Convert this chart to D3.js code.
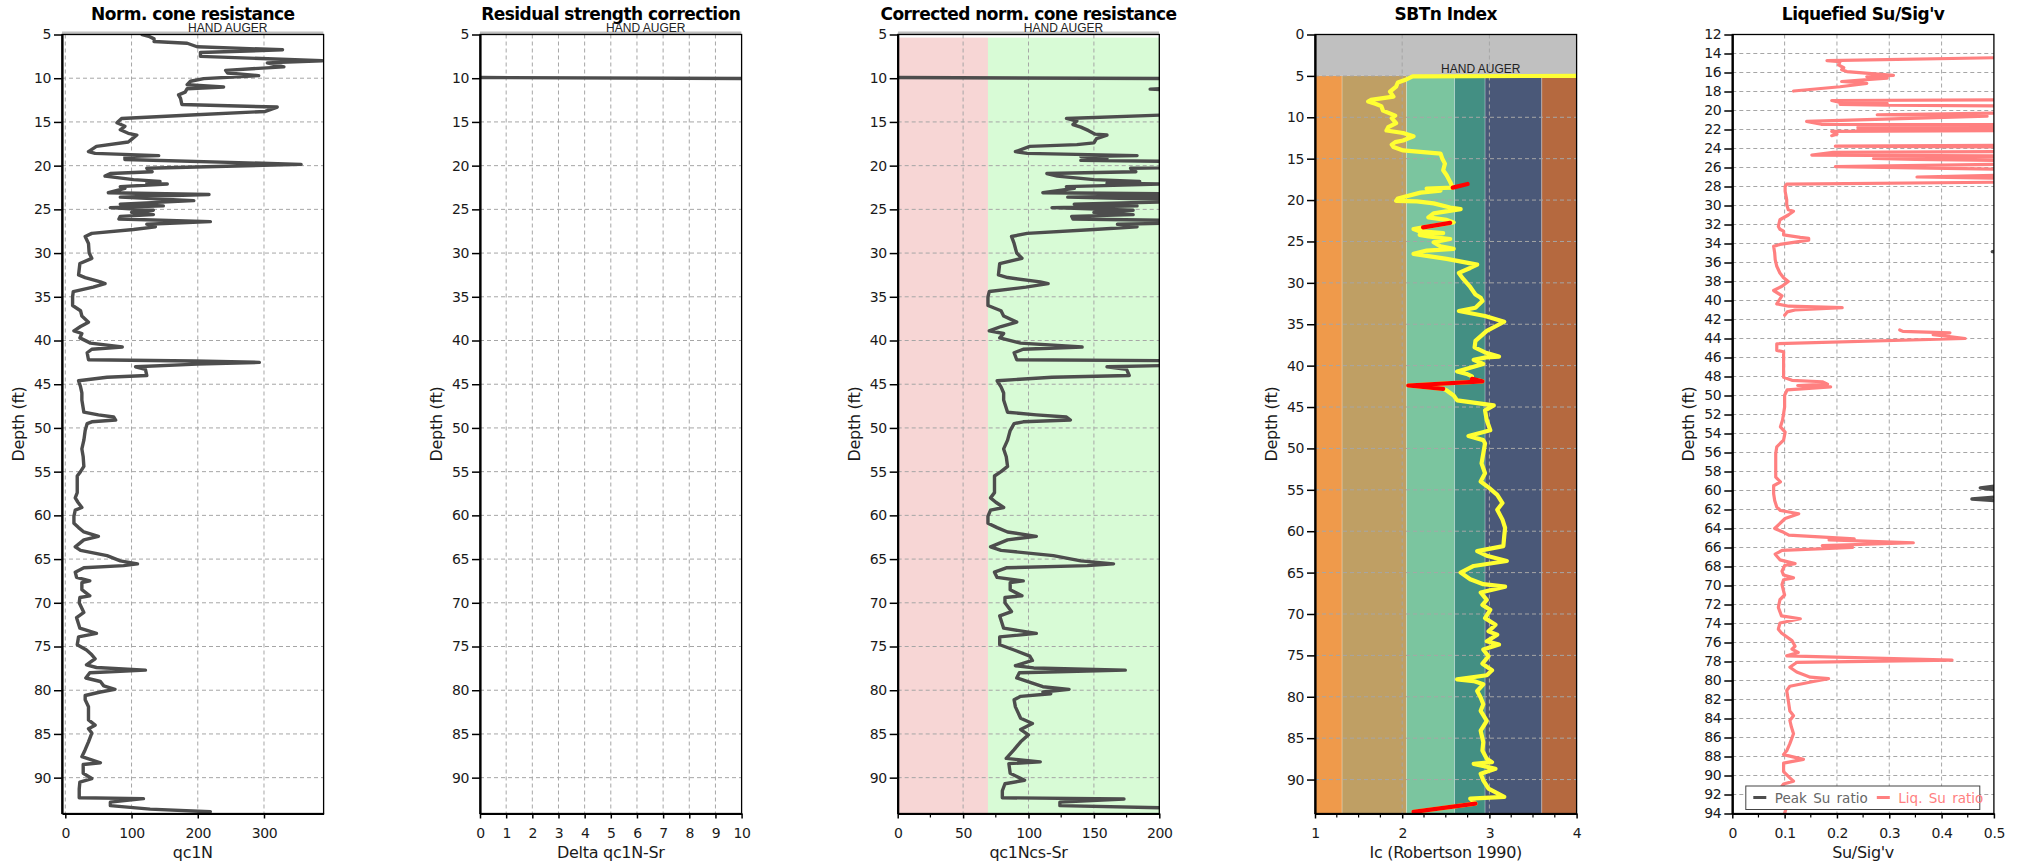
<!DOCTYPE html>
<html><head><meta charset="utf-8">
<script src="https://cdn.jsdelivr.net/npm/d3@7"></script>
<style>
html,body{margin:0;padding:0;background:#fff;}
svg{display:block;}
</style></head><body>
<svg id="chart" width="2026" height="865"></svg>
<script>
// ---------------- DATA ----------------
const titles = ["Norm. cone resistance", "Residual strength correction", "Corrected norm. cone resistance", "SBTn Index", "Liquefied Su/Sig'v"];
const xTitles = ["qc1N", "Delta qc1N-Sr", "qc1Ncs-Sr", "Ic (Robertson 1990)", "Su/Sig'v"];
const yTitle = "Depth (ft)";
const handAuger = [0, 5];
const handAugerLabel = "HAND AUGER";

const xTicks1 = [0, 100, 200, 300];
const xTicks2 = [0, 1, 2, 3, 4, 5, 6, 7, 8, 9, 10];
const xTicks3 = [0, 50, 100, 150, 200];
const xTicks4 = [1, 2, 3, 4];
const xTicks5 = [0, 0.1, 0.2, 0.3, 0.4, 0.5];
const xLabels5 = ["0", "0.1", "0.2", "0.3", "0.4", "0.5"];
const xMinor3 = [25, 75, 125, 175];
const xMinor4 = [1.25, 1.5, 1.75, 2.25, 2.5, 2.75, 3.25, 3.5, 3.75];
const xMinor5 = [0.05, 0.15, 0.25, 0.35, 0.45];
const yTicksDepth = [5, 10, 15, 20, 25, 30, 35, 40, 45, 50, 55, 60, 65, 70, 75, 80, 85, 90];
const yTicksSBT = [0, 5, 10, 15, 20, 25, 30, 35, 40, 45, 50, 55, 60, 65, 70, 75, 80, 85, 90];
const yTicksSu = [12, 14, 16, 18, 20, 22, 24, 26, 28, 30, 32, 34, 36, 38, 40, 42, 44, 46, 48, 50, 52, 54, 56, 58, 60, 62, 64, 66, 68, 70, 72, 74, 76, 78, 80, 82, 84, 86, 88, 90, 92, 94];

// qc1N : [depth ft, value]
const qc1N = [[5.0,116],[5.2,126],[5.5,134],[5.8,134],[6.0,184],[6.4,199],[6.75,328],[7.06,204],[7.5,204],[8.0,388],[8.25,305],[8.7,330],[9.1,242],[9.4,245],[9.7,292],[10.05,209],[10.35,189],[10.75,184],[11.0,239],[11.2,184],[11.6,181],[11.9,171],[12.3,174],[13.0,176],[13.3,320],[13.8,302],[14.2,190],[14.6,85],[15.1,78],[15.5,90],[15.9,83],[16.3,95],[16.5,108],[17.0,100],[17.3,95],[17.8,47],[18.4,35],[18.6,45],[18.85,141],[18.95,90],[19.3,90],[19.85,356],[20.3,123],[20.7,131],[20.9,68],[21.2,60],[21.6,103],[21.8,143],[22.0,123],[22.1,154],[22.4,83],[22.6,90],[23.1,65],[23.3,217],[23.6,83],[24.0,194],[24.4,83],[24.6,148],[24.8,68],[25.1,133],[25.35,100],[25.6,133],[25.8,83],[26.1,81],[26.4,219],[26.7,123],[27.0,136],[27.3,103],[27.75,40],[28.1,30],[28.9,35],[30.0,36],[30.6,40],[31.2,22],[32.5,20],[32.8,30],[33.3,53],[33.5,60],[33.9,42],[34.4,12],[35.0,11],[36.0,11],[36.6,23],[37.2,25],[37.9,35],[38.4,23],[38.9,13],[39.2,25],[39.7,22],[40.3,38],[40.75,86],[41.0,40],[41.4,33],[42.2,35],[42.35,194],[42.5,293],[42.7,199],[43.0,106],[43.3,121],[44.0,123],[44.2,63],[44.6,20],[45.3,23],[46.0,25],[46.8,25],[48.2,28],[48.5,50],[48.75,73],[49.1,76],[49.3,40],[49.5,33],[50.3,30],[51.4,28],[52.4,25],[53.3,27],[54.4,28],[55.0,23],[55.5,18],[57.4,18],[58.0,15],[58.5,19],[59.1,25],[59.4,15],[60.1,13],[60.9,13],[61.4,20],[61.9,28],[62.4,50],[62.8,28],[63.6,15],[64.0,23],[64.6,63],[65.2,83],[65.55,109],[65.75,88],[66.0,28],[66.5,15],[67.1,17],[67.5,37],[67.7,25],[68.5,25],[69.2,37],[69.4,22],[70.0,21],[71.1,28],[71.7,17],[72.9,22],[73.5,47],[73.9,20],[74.8,18],[75.4,32],[75.95,40],[76.4,45],[77.1,32],[77.4,47],[77.7,121],[78.0,37],[78.6,31],[79.0,53],[79.5,58],[79.9,75],[80.2,53],[80.6,30],[81.1,30],[81.9,35],[83.4,35],[84.0,45],[84.4,35],[84.9,40],[85.9,35],[86.8,30],[87.6,25],[88.3,53],[88.5,27],[89.5,27],[90.1,40],[90.5,22],[91.3,21],[92.3,21],[92.4,118],[92.8,68],[93.2,68],[93.6,128],[93.9,219]];

// Delta qc1N-Sr : [depth ft, value]
const deltaSr = [[9.92,0],[10.08,14],[12,40],[94,40]];

// qc1Ncs-Sr : [depth ft, value]
const qc1NcsSr = [[9.92,0],[10.08,280],[11.1,215],[11.25,193],[11.4,215],[14.15,215],[14.6,129],[14.9,137],[15.3,134],[15.6,140],[16.0,146],[16.4,151],[16.5,160],[16.9,152],[17.4,150],[17.6,137],[17.8,101],[18.4,90],[18.6,99],[18.85,183],[18.95,140],[19.2,160],[19.4,140],[19.85,410],[20.3,178],[20.7,182],[20.9,114],[21.2,122],[21.6,150],[21.8,185],[22.0,160],[22.1,205],[22.4,129],[22.6,135],[23.1,111],[23.3,270],[23.6,130],[24.0,245],[24.4,135],[24.6,183],[24.8,118],[25.1,180],[25.35,150],[25.6,180],[25.8,133],[26.1,134],[26.4,270],[26.7,168],[27.0,183],[27.3,150],[27.75,99],[28.1,87],[28.9,89],[30.0,91],[30.6,95],[31.2,78],[32.5,77],[32.8,84],[33.3,109],[33.5,115],[33.9,98],[34.4,70],[35.0,69],[36.0,69],[36.6,79],[37.2,81],[37.9,91],[38.4,79],[38.9,70],[39.2,81],[39.7,78],[40.3,94],[40.75,141],[41.0,96],[41.4,89],[42.2,91],[42.35,248],[42.5,345],[42.7,252],[43.0,160],[43.3,175],[44.0,177],[44.2,118],[44.6,76],[45.3,79],[46.0,81],[46.8,81],[48.2,84],[48.5,106],[48.75,129],[49.1,132],[49.3,96],[49.5,89],[50.3,86],[51.4,84],[52.4,81],[53.3,83],[54.4,84],[55.0,79],[55.5,74],[57.4,74],[58.0,71],[58.5,75],[59.1,81],[59.4,71],[60.1,69],[60.9,69],[61.4,76],[61.9,84],[62.4,106],[62.8,84],[63.6,71],[64.0,79],[64.6,119],[65.2,140],[65.55,165],[65.75,145],[66.0,83],[66.5,74],[67.1,76],[67.5,96],[67.7,86],[68.5,86],[69.2,95],[69.4,82],[70.0,82],[71.0,87],[71.5,78],[72.9,81],[73.5,106],[73.9,78],[74.8,78],[75.4,89],[76.1,101],[76.6,103],[77.2,90],[77.45,104],[77.7,174],[78.0,93],[78.6,91],[79.2,103],[79.6,111],[79.9,131],[80.2,111],[80.4,117],[80.7,94],[81.1,89],[81.9,90],[83.2,94],[83.8,103],[84.5,94],[85.1,100],[85.9,94],[86.8,89],[87.8,83],[88.2,109],[88.4,85],[89.5,86],[90.3,97],[90.7,82],[91.5,80],[92.3,80],[92.45,173],[92.8,124],[93.2,124],[93.6,250],[93.9,290]];
const zoneEdges3 = [0, 69, 200];
const zoneColors3 = ["#f7d6d5", "#d8fbd6"];
const zoneTop3 = 5.35;

// Ic : [depth ft, value]
const icSeries = [[4.98,4.6],[5.05,2.12],[5.2,2.09],[5.5,2.03],[5.8,1.95],[6.3,1.93],[6.9,1.86],[7.5,1.90],[7.9,1.64],[8.1,1.61],[8.4,1.70],[8.65,1.76],[9.2,1.78],[9.8,1.92],[10.1,1.88],[10.7,1.93],[11.2,1.84],[11.6,1.82],[11.9,2.01],[12.3,2.13],[12.8,2.01],[13.0,1.92],[13.3,1.88],[13.6,1.90],[14.0,2.01],[14.4,2.44],[15.0,2.46],[15.6,2.49],[16.4,2.47],[17.0,2.51],[17.8,2.55],[18.5,2.58],[18.6,2.28],[18.85,2.44],[19.1,2.21],[19.8,1.95],[20.1,1.93],[20.15,2.17],[20.4,2.36],[20.9,2.55],[21.1,2.67],[21.6,2.36],[22.1,2.30],[22.4,2.51],[22.7,2.59],[23.3,2.24],[23.5,2.13],[23.75,2.19],[24.0,2.47],[24.2,2.20],[24.4,2.30],[24.7,2.55],[25.1,2.36],[25.6,2.44],[25.9,2.59],[26.1,2.28],[26.5,2.13],[26.8,2.32],[27.1,2.51],[27.8,2.86],[28.2,2.78],[28.8,2.65],[29.4,2.69],[30.5,2.78],[31.4,2.84],[31.8,2.90],[32.2,2.92],[33.0,2.84],[33.4,2.65],[34.0,2.95],[34.7,3.17],[35.8,2.97],[37.0,2.84],[37.8,2.83],[38.4,2.95],[38.9,3.11],[39.0,2.96],[39.3,2.82],[39.8,2.93],[40.7,2.63],[41.0,2.74],[41.3,2.80],[41.6,2.80],[41.9,2.92],[42.4,2.07],[42.8,2.47],[43.0,2.51],[43.6,2.59],[44.2,2.63],[44.8,3.05],[45.4,2.95],[46.6,2.97],[47.8,3.01],[48.5,2.76],[49.0,2.93],[49.4,2.95],[50.6,2.93],[51.8,2.91],[53.0,2.95],[54.0,2.90],[54.8,3.00],[55.6,3.09],[56.6,3.15],[57.4,3.09],[58.6,3.15],[59.6,3.18],[60.6,3.17],[61.8,3.16],[62.4,2.86],[63.0,2.98],[63.6,3.20],[64.2,2.82],[65.0,2.67],[65.8,2.78],[66.4,2.93],[66.7,3.18],[67.4,2.90],[68.3,2.97],[68.9,2.92],[69.5,3.01],[70.5,2.95],[71.3,3.07],[72.1,2.99],[72.5,3.09],[73.3,2.97],[73.7,3.11],[74.3,2.93],[75.1,2.99],[76.0,2.92],[76.8,3.03],[77.4,2.97],[77.9,2.63],[78.1,2.82],[78.5,2.93],[79.3,2.86],[80.1,2.90],[80.9,2.93],[81.7,2.90],[82.9,2.97],[84.1,2.90],[85.5,2.93],[86.5,2.92],[87.5,2.97],[87.9,3.03],[88.1,2.82],[88.7,3.07],[89.3,2.90],[90.1,2.93],[91.1,2.99],[92.1,3.17],[92.3,2.78],[92.9,2.84],[93.9,2.13]];
// flagged Ic segments (red), null separates pieces
const icFlagged = [[18.5,2.58],[18.05,2.75],null,[22.75,2.55],[23.3,2.24],null,[41.6,2.80],[41.9,2.92],[42.4,2.07],[42.8,2.47],null,[92.9,2.84],[93.9,2.13]];
const sbtEdges = [1, 1.31, 2.05, 2.6, 2.95, 3.6, 4];
const sbtColors = ["#ef9a4b", "#bf9f64", "#7bc59f", "#438f83", "#4a5878", "#b5693f"];

// Liquefied Su ratio : [depth ft, value], null = gap
const liqSu = [[14.35,0.60],[14.75,0.181],[14.85,0.206],[15.2,0.203],[15.5,0.213],[15.7,0.209],[15.9,0.219],[16.3,0.308],[16.45,0.257],[16.6,0.296],[16.95,0.209],[17.15,0.257],[17.5,0.206],[17.95,0.117],null,[18.85,0.60],[18.95,0.19],[19.15,0.206],[19.25,0.296],[19.35,0.206],[19.45,0.296],[19.55,0.60],null,[20.2,0.60],[20.45,0.277],[20.6,0.487],[21.15,0.142],[21.45,0.17],[21.5,0.60],[21.6,0.24],[21.7,0.60],[21.8,0.24],[21.9,0.60],[22.0,0.24],[22.1,0.60],[22.2,0.19],[22.5,0.20],[22.65,0.19],null,[23.65,0.60],[23.75,0.197],[23.85,0.60],null,[24.3,0.60],[24.4,0.193],[24.7,0.152],[24.8,0.60],[25.05,0.27],[25.15,0.35],[25.3,0.60],[25.6,0.60],[25.9,0.197],[26.25,0.60],[26.7,0.60],[27.0,0.353],[27.2,0.60],[27.5,0.60],[27.75,0.104],[28.0,0.101],[28.5,0.101],[29.4,0.104],[29.9,0.104],[30.45,0.107],[30.6,0.117],[31.0,0.107],[31.5,0.091],[32.2,0.088],[32.5,0.091],[32.7,0.098],[33.1,0.098],[33.35,0.130],[33.45,0.146],[33.65,0.146],[34.1,0.091],[34.3,0.079],[35.0,0.081],[35.7,0.082],[36.4,0.085],[37.1,0.091],[37.6,0.098],[38.0,0.107],[38.5,0.095],[38.95,0.079],[39.5,0.095],[40.35,0.085],[40.6,0.108],[40.75,0.21],[41.0,0.12],[41.2,0.105],[41.55,0.10],null,[43.1,0.32],[43.25,0.326],[43.4,0.416],[43.6,0.384],[44.0,0.445],[44.55,0.085],[45.25,0.085],[45.4,0.098],[48.07,0.098],[48.4,0.114],[48.55,0.172],[48.8,0.182],[48.95,0.125],[49.1,0.188],[49.4,0.105],[49.97,0.10],[51.2,0.10],[52.6,0.096],[53.3,0.092],[53.85,0.101],[54.7,0.098],[55.4,0.085],[56.1,0.083],[58.6,0.083],[59.1,0.092],[59.5,0.079],[60.35,0.079],[61.05,0.081],[61.75,0.085],[62.1,0.092],[62.45,0.127],[62.95,0.101],[64.0,0.081],[64.4,0.098],[64.7,0.108],[65.1,0.233],[65.2,0.185],[65.5,0.346],[65.8,0.172],[66.0,0.23],[66.3,0.095],[66.7,0.082],[67.3,0.091],[67.7,0.12],[67.9,0.10],[68.5,0.095],[68.9,0.098],[69.2,0.117],[69.4,0.098],[69.9,0.095],[70.6,0.098],[71.0,0.10],[71.5,0.091],[72.3,0.088],[73.2,0.094],[73.5,0.13],[73.95,0.091],[74.6,0.088],[75.0,0.094],[75.8,0.114],[76.4,0.12],[76.7,0.114],[77.05,0.126],[77.4,0.104],[77.85,0.42],[78.1,0.123],[78.6,0.11],[79.1,0.123],[79.65,0.149],[79.8,0.184],[80.1,0.155],[80.6,0.11],[81.05,0.104],[82.1,0.107],[83.2,0.11],[83.7,0.117],[84.2,0.11],[84.9,0.113],[85.6,0.117],[86.65,0.11],[87.4,0.104],[87.8,0.098],[88.3,0.136],[88.7,0.098],[89.6,0.098],[90.25,0.11],[90.6,0.117],[90.9,0.098],[91.2,0.094],[92.0,0.10],[93.0,0.105],[94.0,0.10]];
// Peak Su ratio : [depth ft, value]
const peakSu = [[14.4,0.9],[34.6,0.56],[34.85,0.497],[35.1,0.56],[59.3,0.6],[59.5,0.51],[59.72,0.474],[60.0,0.51],[60.3,0.53],[60.65,0.51],[60.9,0.458],[61.1,0.51],[61.3,0.6],[94,0.8]];
const legendNames = ["Peak Su ratio", "Liq. Su ratio"];

// ---------------- LAYOUT / STYLE ----------------
const FONT = "'DejaVu Sans', Verdana, sans-serif";
const L = {lefts: [62, 480, 897.7, 1315, 1732.3], width: 261.6, top: 34.5, bottom: 813.5};
const C = {line: "#4d4d4d", grid: "#a6a6a6", auger: "#c0c0c0", yellow: "#ffff33", red: "#ff0000", salmon: "#ff8080", text: "#1a1a1a"};

const svg = d3.select("#chart");
const defs = svg.append("defs");

const panels = [
  {xDomain: [-5, 390], xTicks: xTicks1, xMinor: [], yDomain: [5, 94.1], yTicks: yTicksDepth, auger: true},
  {xDomain: [0, 10], xTicks: xTicks2, xMinor: [], yDomain: [5, 94.1], yTicks: yTicksDepth, auger: true},
  {xDomain: [0, 200], xTicks: xTicks3, xMinor: xMinor3, yDomain: [5, 94.1], yTicks: yTicksDepth, auger: true},
  {xDomain: [1, 4], xTicks: xTicks4, xMinor: xMinor4, yDomain: [0, 94.1], yTicks: yTicksSBT, auger: true},
  {xDomain: [0, 0.5], xTicks: xTicks5, xMinor: xMinor5, xLabels: xLabels5, yDomain: [12, 94], yTicks: yTicksSu, auger: false}
];

panels.forEach((p, i) => {
  const x0 = L.lefts[i];
  p.x = d3.scaleLinear().domain(p.xDomain).range([x0, x0 + L.width]);
  p.y = d3.scaleLinear().domain(p.yDomain).range([L.top, L.bottom]);
  p.g = svg.append("g");
  p.clip = "clip" + i;
  defs.append("clipPath").attr("id", p.clip).append("rect")
    .attr("x", x0).attr("y", L.top).attr("width", L.width).attr("height", L.bottom - L.top);
  defs.append("clipPath").attr("id", p.clip + "a").append("rect")
    .attr("x", x0).attr("y", L.top - 3).attr("width", L.width).attr("height", L.bottom - L.top + 3);
});

// backgrounds
{
  const p = panels[2];
  zoneColors3.forEach((c, k) => {
    p.g.append("rect").attr("x", p.x(zoneEdges3[k])).attr("width", p.x(zoneEdges3[k + 1]) - p.x(zoneEdges3[k]))
      .attr("y", p.y(zoneTop3)).attr("height", L.bottom - p.y(zoneTop3)).attr("fill", c);
  });
}
{
  const p = panels[3];
  sbtColors.forEach((c, k) => {
    p.g.append("rect").attr("x", p.x(sbtEdges[k])).attr("width", p.x(sbtEdges[k + 1]) - p.x(sbtEdges[k]))
      .attr("y", p.y(handAuger[1])).attr("height", L.bottom - p.y(handAuger[1])).attr("fill", c);
  });
  sbtEdges.slice(1, -1).forEach(e => {
    p.g.append("line").attr("x1", p.x(e)).attr("x2", p.x(e)).attr("y1", p.y(handAuger[1])).attr("y2", L.bottom)
      .attr("stroke", "rgba(255,255,255,0.35)").attr("stroke-width", 1);
  });
}
// hand auger blocks
panels.forEach(p => {
  if (!p.auger) return;
  p.g.append("rect").attr("clip-path", `url(#${p.clip}a)`)
    .attr("x", p.x.range()[0]).attr("width", L.width)
    .attr("y", p.y(handAuger[0])).attr("height", p.y(handAuger[1]) - p.y(handAuger[0]))
    .attr("fill", C.auger);
});

// grids
panels.forEach(p => {
  const [x0, x1] = p.x.range();
  const gg = p.g.append("g").attr("stroke", C.grid).attr("stroke-width", 1).attr("stroke-dasharray", "4,3");
  p.yTicks.forEach(t => gg.append("line").attr("x1", x0).attr("x2", x1).attr("y1", p.y(t)).attr("y2", p.y(t)));
  p.xTicks.forEach(t => {
    const xx = p.x(t);
    if (xx <= x0 + 0.5 || xx >= x1 - 0.5) return;
    gg.append("line").attr("x1", xx).attr("x2", xx).attr("y1", L.top).attr("y2", L.bottom);
  });
});

// data lines
function drawLine(p, data, color, width) {
  const gen = d3.line().defined(d => d !== null).x(d => p.x(d[1])).y(d => p.y(d[0]));
  p.g.append("path").datum(data).attr("clip-path", `url(#${p.clip})`)
    .attr("d", gen).attr("fill", "none").attr("stroke", color).attr("stroke-width", width)
    .attr("stroke-linejoin", "round").attr("stroke-linecap", "round");
}
drawLine(panels[0], qc1N, C.line, 3.4);
drawLine(panels[1], deltaSr, C.line, 3.4);
drawLine(panels[2], qc1NcsSr, C.line, 3.4);
drawLine(panels[3], icSeries, C.yellow, 4.2);
drawLine(panels[3], icFlagged, C.red, 4.2);
drawLine(panels[4], peakSu, C.line, 3.4);
drawLine(panels[4], liqSu, C.salmon, 3.2);

// frames, axes, labels
panels.forEach((p, i) => {
  const [x0, x1] = p.x.range();
  const cx = (x0 + x1) / 2;
  p.g.append("rect").attr("x", x0).attr("y", L.top).attr("width", L.width).attr("height", L.bottom - L.top)
    .attr("fill", "none").attr("stroke", "#000").attr("stroke-width", 1.3);

  const ya = p.g.append("g").attr("transform", `translate(${x0},0)`)
    .call(d3.axisLeft(p.y).tickValues(p.yTicks).tickSize(8).tickSizeOuter(0).tickPadding(3));
  ya.select(".domain").attr("stroke-width", 2.2);
  ya.selectAll(".tick line").attr("stroke-width", 1.5);
  ya.selectAll("text").attr("font-family", FONT).attr("font-size", 14).attr("letter-spacing", "-0.4px").attr("fill", C.text);

  const xa = p.g.append("g").attr("transform", `translate(0,${L.bottom})`)
    .call(d3.axisBottom(p.x).tickValues(p.xTicks).tickSize(5).tickSizeOuter(0).tickPadding(10)
      .tickFormat((d, k) => p.xLabels ? p.xLabels[k] : d3.format("d")(d)));
  xa.select(".domain").attr("stroke-width", 2.2);
  xa.selectAll(".tick line").attr("stroke-width", 1.5);
  xa.selectAll("text").attr("font-family", FONT).attr("font-size", 14).attr("letter-spacing", "-0.4px").attr("fill", C.text);
  p.xMinor.forEach(t => p.g.append("line").attr("x1", p.x(t)).attr("x2", p.x(t))
    .attr("y1", L.bottom).attr("y2", L.bottom + 4).attr("stroke", "#000").attr("stroke-width", 1.2));

  p.g.append("text").attr("x", cx).attr("y", 19.5).attr("text-anchor", "middle")
    .attr("font-family", FONT).attr("font-weight", "bold").attr("font-size", 17)
    .attr("letter-spacing", "-0.55px").attr("fill", "#000").text(titles[i]);
  p.g.append("text").attr("x", cx).attr("y", 857.5).attr("text-anchor", "middle")
    .attr("font-family", FONT).attr("font-size", 16).attr("letter-spacing", "-0.3px").attr("fill", C.text).text(xTitles[i]);
  p.g.append("text").attr("transform", `translate(${x0 - 38},${(L.top + L.bottom) / 2}) rotate(-90)`)
    .attr("text-anchor", "middle").attr("font-family", FONT).attr("font-size", 16).attr("letter-spacing", "-0.3px")
    .attr("fill", C.text).text(yTitle);

  if (p.auger) {
    p.g.append("text").attr("x", cx + 35).attr("y", p.y(handAuger[1]) - 3).attr("text-anchor", "middle")
      .attr("font-family", "'Liberation Sans', Arial, sans-serif").attr("font-size", 12).attr("fill", "#222")
      .text(handAugerLabel);
  }
});

// legend in last panel
{
  const p = panels[4];
  const [x0] = p.x.range();
  const lg = p.g.append("g");
  lg.append("rect").attr("x", x0 + 13.5).attr("y", 786).attr("width", 234).attr("height", 23.5)
    .attr("fill", "#fff").attr("stroke", "#444").attr("stroke-width", 1);
  const items = [{name: legendNames[0], color: C.line, text: "#666", lx: x0 + 21}, {name: legendNames[1], color: C.salmon, text: C.salmon, lx: x0 + 144.5}];
  items.forEach(it => {
    lg.append("line").attr("x1", it.lx).attr("x2", it.lx + 13).attr("y1", 797.5).attr("y2", 797.5)
      .attr("stroke", it.color).attr("stroke-width", 3);
    lg.append("text").attr("x", it.lx + 21.5).attr("y", 802.5).attr("font-family", FONT).attr("font-size", 13.5)
      .attr("word-spacing", "2px").attr("fill", it.text).text(it.name);
  });
}
</script></body></html>
